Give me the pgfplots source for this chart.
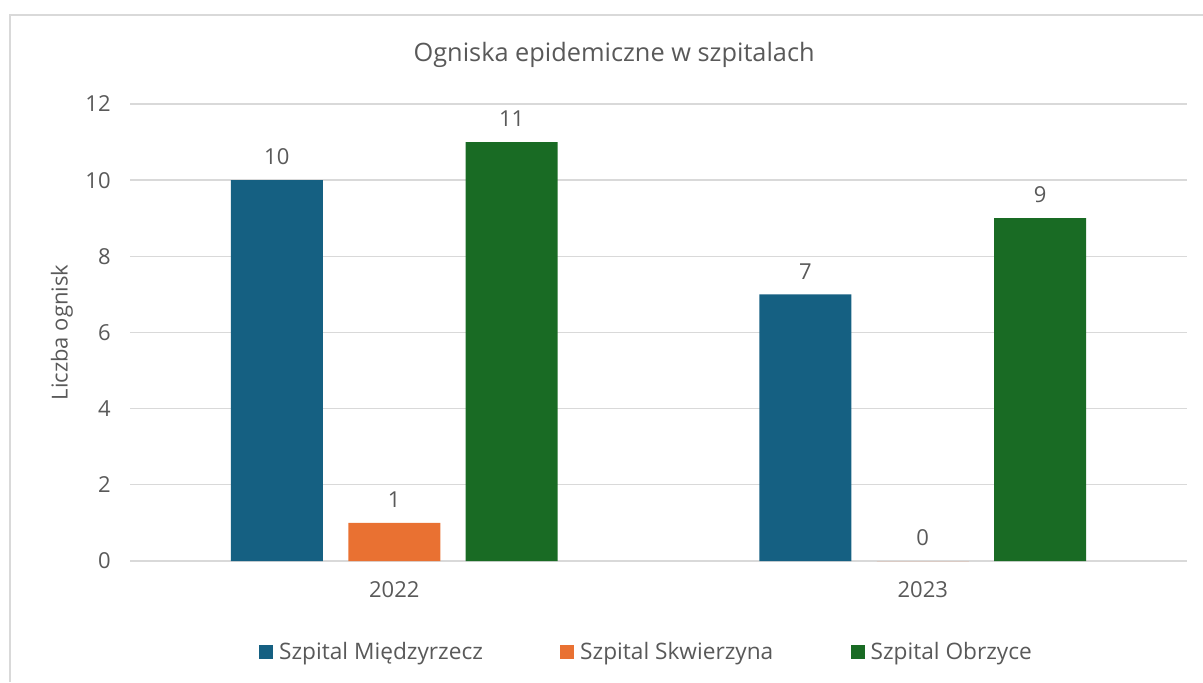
\documentclass[border=0pt]{standalone}
\usepackage{fontspec}
\setmainfont{Open Sans}
\usepackage{pgfplots}
\pgfplotsset{compat=1.18}

\definecolor{txt}{HTML}{595959}
\definecolor{gridc}{HTML}{D9D9D9}
\definecolor{cblue}{HTML}{156082}
\definecolor{corange}{HTML}{E97132}
\definecolor{cgreen}{HTML}{196B24}

\begin{document}
\begin{tikzpicture}
% page is 1203x682 px at 0.75pt per px
\useasboundingbox (0pt,0pt) rectangle (902.25pt,511.5pt);
% chart area border (right and bottom edges fall outside)
\draw[gridc, line width=1.5pt] (7.5pt,0pt) -- (7.5pt,500.25pt) -- (902.25pt,500.25pt);
\begin{axis}[
    at={(97.5pt,90.75pt)}, anchor=south west,
    scale only axis,
    width=792.75pt, height=342.75pt,
    ybar=19.1pt,
    bar width=69pt,
    xmin=-0.5, xmax=1.5,
    ymin=0, ymax=12,
    xtick=data,
    xticklabels={2022,2023},
    ytick={0,2,...,12},
    axis line style={draw=none},
    major tick length=0pt,
    ymajorgrids,
    grid style={gridc, line width=1pt},
    font=\fontsize{16.5}{19}\selectfont,
    every tick label/.append style={text=txt},
    /pgf/number format/assume math mode=true,
    xticklabel style={yshift=-12pt},
    yticklabel style={xshift=-11pt},
    title={Ogniska epidemiczne w szpitalach},
    title style={at={(0.458,1.09)}, anchor=center, text=txt, font=\fontsize{19}{22}\selectfont},
    ylabel={Liczba ognisk},
    ylabel style={at={(-0.0643,0.5)}, anchor=center, text=txt},
    nodes near coords,
    every node near coord/.append style={text=txt, yshift=8pt},
    legend columns=3,
    legend style={at={(0.489,-0.199)}, anchor=center, draw=none, text=txt,
        font=\fontsize{17}{20}\selectfont,
        /tikz/every even column/.append style={column sep=56pt}},
    legend image code/.code={\fill[#1, draw=none] (0pt,-5.25pt) rectangle (10.5pt,5.25pt);
        \path (13pt,0pt);},
]
\addplot[fill=cblue, draw=none] coordinates {(0,10) (1,7)};
\addlegendentry{Szpital Międzyrzecz}
\addplot[fill=corange, draw=none] coordinates {(0,1) (1,0)};
\addlegendentry{Szpital Skwierzyna}
\addplot[fill=cgreen, draw=none] coordinates {(0,11) (1,9)};
\addlegendentry{Szpital Obrzyce}
\end{axis}
\end{tikzpicture}
\end{document}
